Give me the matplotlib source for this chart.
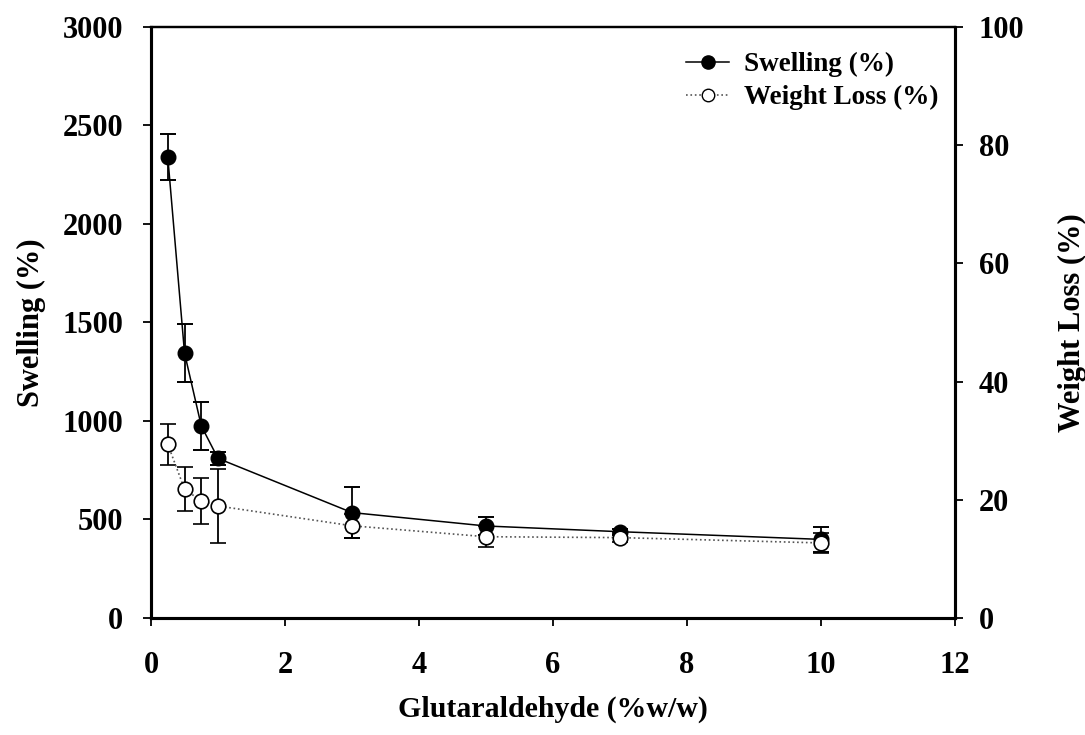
import matplotlib.pyplot as plt
from matplotlib.lines import Line2D

plt.rcParams['font.family'] = ['Liberation Serif', 'DejaVu Serif']
plt.rcParams['font.weight'] = 'bold'

# glutaraldehyde concentration (%w/w)
glut = [0.25, 0.5, 0.75, 1, 3, 5, 7, 10]

swelling = [2340, 1345, 975, 810, 535, 467, 438, 399]
swelling_err = [117, 146, 120, 35, 128, 45, 15, 64]

weight_loss = [29.4, 21.8, 19.8, 18.95, 15.6, 13.75, 13.6, 12.7]
weight_loss_err = [3.45, 3.7, 3.95, 6.2, 2.0, 1.8, 0.8, 1.7]

fig = plt.figure(figsize=(10.85, 7.35), dpi=100)
ax = fig.add_axes([0.1392, 0.1592, 0.741, 0.8041])
ax2 = ax.twinx()

ax.errorbar(glut, swelling, yerr=swelling_err, color='black', lw=1.1,
            marker='o', ms=10.5, mfc='black', mec='black',
            ecolor='black', elinewidth=1.3, capsize=6, capthick=1.4, zorder=3)
ax2.errorbar(glut, weight_loss, yerr=weight_loss_err, color='#555555', lw=1.2,
             ls=':', marker='o', ms=10.5, mfc='white', mec='black', mew=1.2,
             ecolor='black', elinewidth=1.3, capsize=6, capthick=1.4, zorder=3)

ax.set_xlim(0, 12)
ax.set_ylim(0, 3000)
ax2.set_ylim(0, 100)
ax.set_xticks(range(0, 13, 2))
ax.set_yticks(range(0, 3001, 500))
ax2.set_yticks(range(0, 101, 20))

for a in (ax, ax2):
    a.tick_params(direction='out', length=6, width=1.3, labelsize=22)
    for side in ('left', 'bottom', 'right'):
        a.spines[side].set_linewidth(2.2)
    a.spines['top'].set_linewidth(1.6)
    for lab in a.get_xticklabels() + a.get_yticklabels():
        lab.set_fontweight('bold')
ax.tick_params(axis='x', pad=18)
ax.tick_params(axis='y', pad=14)
ax2.tick_params(axis='y', pad=11)

ax.set_xlabel('Glutaraldehyde (%w/w)', fontsize=21.5, fontweight='bold', labelpad=11)
ax.set_ylabel('Swelling (%)', fontsize=22, fontweight='bold', labelpad=12)
ax2.set_ylabel('Weight Loss (%)', fontsize=22, fontweight='bold', labelpad=24)

handles = [
    Line2D([0], [0], color='black', lw=1.1, marker='o', ms=9.5, mfc='black', mec='black'),
    Line2D([0], [0], color='#555555', lw=1.2, ls=':', marker='o', ms=9, mfc='white', mec='black'),
]
ax2.legend(handles, ['Swelling (%)', 'Weight Loss (%)'], loc='upper right',
           bbox_to_anchor=(1.0, 0.985), frameon=False,
           prop={'weight': 'bold', 'size': 19.5}, handlelength=1.6,
           handletextpad=0.55, labelspacing=0.3, borderaxespad=0.2)

fig.savefig('out.png', dpi=100, facecolor='white')
